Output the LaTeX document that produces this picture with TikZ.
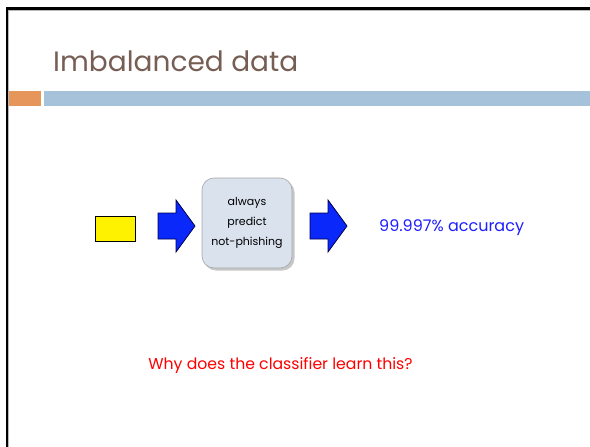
\documentclass[tikz,border=0pt]{standalone}
\usepackage{fontspec}
\setmainfont{Poppins}
\definecolor{titlebrown}{RGB}{118,94,84}
\definecolor{barorange}{RGB}{230,150,90}
\definecolor{barblue}{RGB}{165,194,218}
\definecolor{arrowblue}{RGB}{10,40,250}
\definecolor{boxfill}{RGB}{218,226,238}
\definecolor{acc}{RGB}{30,30,255}
\tikzset{
  blockarrow/.style={fill=arrowblue, draw=black!70!blue, line width=0.8pt, line join=miter},
}
\begin{document}
\begin{tikzpicture}[x=1pt,y=-1pt]
\useasboundingbox (0,0) rectangle (590,447);
\fill[white] (0,0) rectangle (590,447);
% slide frame
\draw[line width=2.2pt] (7,447) -- (7,8.5) -- (590,8.5);
\draw[gray!55, line width=0.7pt] (8.7,447) -- (8.7,10.2) -- (590,10.2);
% title
\node[anchor=base west, inner sep=0, text=titlebrown, font=\fontsize{28}{30}\selectfont] (title) at (53,71) {Imbalanced data};
% bars
\fill[barorange] (8.5,91) rectangle (40.7,106);
\fill[barblue] (44,91) rectangle (590,106);
% yellow box
\node[draw=black, fill=yellow, line width=0.7pt, minimum width=40pt, minimum height=25pt, inner sep=0] (input) at (115,228.5) {};
% arrow 1
\draw[blockarrow] (158,213) -- (176,213) -- (176,200) -- (195,226) -- (176,252) -- (176,239) -- (158,239) -- cycle;
% rounded box shadow
\fill[black!22, rounded corners=12pt] (204,180.5) rectangle (294.5,270.5);
\node[draw=gray!70, fill=boxfill, rounded corners=12pt, minimum width=90pt, minimum height=90pt, line width=0.6pt, align=center, font=\fontsize{11}{20}\selectfont] (clf) at (247,223) {always\\predict\\not-phishing};
% arrow 2
\draw[blockarrow] (310,213) -- (328,213) -- (328,200) -- (347,226) -- (328,252) -- (328,239) -- (310,239) -- cycle;
% output text
\node[anchor=west, text=acc, inner sep=0, font=\fontsize{16}{18}\selectfont] (out) at (379,228) {99.997\% accuracy};
% question
\node[text=red, inner sep=0, font=\fontsize{15.7}{18}\selectfont] (q) at (280.5,366) {Why does the classifier learn this?};
\end{tikzpicture}
\end{document}
